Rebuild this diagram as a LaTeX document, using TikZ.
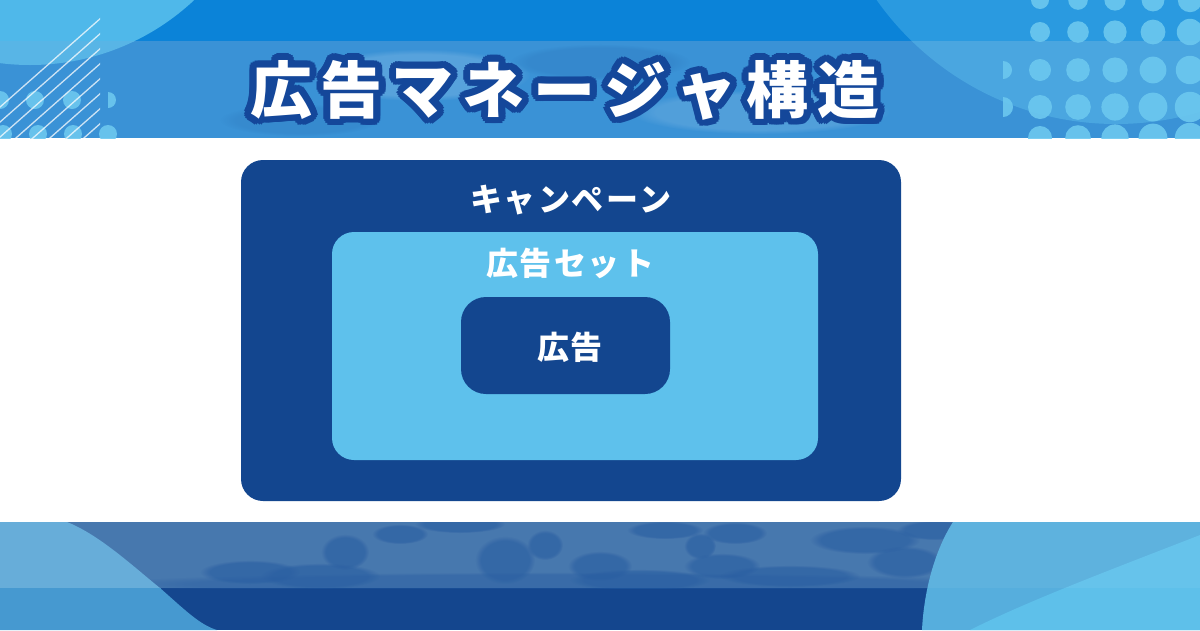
\documentclass[tikz,border=0pt]{standalone}
\usepackage{fontspec}
\usetikzlibrary{fadings}
\newfontfamily\cjk{Noto Sans CJK JP}
\definecolor{topA}{HTML}{0B83D8}
\definecolor{topB}{HTML}{3A92D6}
\definecolor{circA}{HTML}{4FB8EA}
\definecolor{circB}{HTML}{58B5E6}
\definecolor{arcA}{HTML}{2A9AE0}
\definecolor{arcB}{HTML}{4AA6E0}
\definecolor{navy}{HTML}{13468F}
\definecolor{sky}{HTML}{5EC1EC}
\definecolor{outl}{HTML}{14479A}
\definecolor{botA}{HTML}{3E71AA}
\definecolor{botB}{HTML}{14468E}
\definecolor{cloudD}{HTML}{1E569E}
\definecolor{lightL}{HTML}{5FA9D8}
\definecolor{lightLB}{HTML}{4699D0}
\definecolor{lightR}{HTML}{56AEDD}
\definecolor{lightR2}{HTML}{5EC0EA}
\definecolor{dotc}{HTML}{6CC8EF}
\tikzset{
  box/.style={fill=#1, rounded corners=22pt, inner sep=0pt},
  lbl/.style={text=white, font=\cjk\bfseries\fontsize{32}{34}\selectfont, inner sep=0pt},
  ttl/.style={font=\cjk\bfseries\fontsize{62}{66}\selectfont, inner sep=0pt},
  dotst/.style={fill=dotc, opacity=0.9},
  soft/.style={fill=#1, path fading=circle with fuzzy edge 20 percent}
}
\newcommand{\ttltext}{広\kern9pt 告\kern9pt マ\kern9pt ネ\kern9pt ー\kern9pt ジ\kern9pt ャ\kern9pt 構\kern9pt 造}
\newcommand{\softblob}[3]{\fill[soft=cloudD, opacity=0.6] #1 ellipse (#2 and #3);}
\begin{document}
\begin{tikzpicture}[x=1pt,y=-1pt]
\useasboundingbox (0,0) rectangle (1200,630);
% ---------- top banner ----------
\fill[topA] (0,0) rectangle (1200,41);
\fill[topB] (0,41) rectangle (1200,138);
\fill[soft=white, opacity=0.15] (420,75) ellipse (110 and 26);
\fill[soft=white, opacity=0.12] (760,112) ellipse (130 and 22);
\fill[soft=navy, opacity=0.12] (600,62) ellipse (90 and 18);
\fill[soft=navy, opacity=0.1] (300,120) ellipse (80 and 16);
% top-left circle
\begin{scope}
  \clip (0,0) rectangle (1200,41);
  \fill[circA] (30,-175) circle (240);
\end{scope}
\begin{scope}
  \clip (0,41) rectangle (1200,138);
  \fill[circB] (30,-175) circle (240);
\end{scope}
% top-right circle
\begin{scope}
  \clip (0,0) rectangle (1200,41);
  \fill[arcA] (1116,-169) circle (293);
\end{scope}
\begin{scope}
  \clip (0,41) rectangle (1200,138);
  \fill[arcB] (1116,-169) circle (293);
\end{scope}
% dots and lines
\begin{scope}
  \clip (0,0) rectangle (1200,138);
  \foreach \x in {0,35,72} \fill[dotst] (\x,100) circle (9);
  \begin{scope}\clip (108,80) rectangle (130,120); \fill[dotst] (108,100) circle (8); \end{scope}
  \foreach \x in {3,38,73,108} \fill[dotst] (\x,134) circle (9);
  \begin{scope}
    \clip (0,0) rectangle (100,138);
    \foreach \i in {0,...,9}
      \draw[white, opacity=0.75, line width=1.3pt] (-60+\i*17,160) -- (110+\i*17,10);
  \end{scope}
  \foreach \y/\r in {0/9,32/10,70/11,107/12,138/12} {
    \foreach \x/\s in {1040/0,1078/1,1115/2,1153/3,1190/4}
      \fill[dotst] (\x,\y) circle ({\r+\s*0.8});
  }
  \begin{scope}
    \clip (1003,50) rectangle (1030,130);
    \fill[dotst] (1003,70) circle (9);
    \fill[dotst] (1003,107) circle (10);
  \end{scope}
\end{scope}
% title with outline (offset copies)
\coordinate (tpos) at (565,90);
\foreach \a in {0,20,...,340}
  \path ([shift={(\a:7)}]tpos) node[ttl, text=outl] {\ttltext};
\node[ttl, text=white] (title) at (tpos) {\ttltext};
% ---------- bottom banner ----------
\fill[botA] (0,522) rectangle (1200,588);
\fill[botB] (0,588) rectangle (1200,630);
\begin{scope}
  \clip (0,522) rectangle (1200,588);
  \fill[soft=cloudD, opacity=0.45] (560,584) ellipse (460 and 12);
  \softblob{(345,552)}{24}{18}
  \softblob{(320,576)}{60}{13}
  \softblob{(400,534)}{28}{10}
  \softblob{(460,524)}{45}{9}
  \softblob{(505,560)}{30}{24}
  \softblob{(545,545)}{18}{15}
  \softblob{(600,566)}{32}{15}
  \softblob{(640,580)}{70}{11}
  \softblob{(700,546)}{16}{13}
  \softblob{(735,533)}{32}{11}
  \softblob{(722,566)}{38}{13}
  \softblob{(790,576)}{70}{11}
  \softblob{(865,540)}{55}{14}
  \softblob{(905,562)}{38}{16}
  \softblob{(935,530)}{38}{10}
  \softblob{(250,572)}{50}{12}
  \softblob{(665,530)}{38}{9}
\end{scope}
% left light shape
\begin{scope}
  \clip (0,522) rectangle (1200,588);
  \fill[lightL] (0,522) -- (67,522) .. controls (100,535) and (135,568) .. (160,588)
     .. controls (185,610) and (200,625) .. (217,630) -- (0,630) -- cycle;
\end{scope}
\begin{scope}
  \clip (0,588) rectangle (1200,630);
  \fill[lightLB] (0,522) -- (67,522) .. controls (100,535) and (135,568) .. (160,588)
     .. controls (185,610) and (200,625) .. (217,630) -- (0,630) -- cycle;
\end{scope}
% right light shapes
\fill[lightR] (953,522) .. controls (935,550) and (924,590) .. (922,630) -- (1200,630) -- (1200,522) -- cycle;
\fill[lightR2] (1200,535) .. controls (1110,570) and (1030,600) .. (970,630) -- (1200,630) -- cycle;
\fill[white,opacity=0.05] (0,522) rectangle (1200,588);
% ---------- boxes ----------
\node[box=navy, minimum width=660pt, minimum height=341pt] (campaign) at (571,330.5) {};
\node[box=sky, minimum width=486pt, minimum height=228pt] (adset) at (575,346) {};
\node[box=navy, minimum width=209pt, minimum height=97pt, rounded corners=25pt] (ad) at (565.5,345.5) {};
\node[lbl] (campaignlbl) at (571,200) {キ\kern2pt ャ\kern2pt ン\kern2pt ペ\kern2pt ー\kern2pt ン};
\node[lbl] (adsetlbl) at (570,263) {広\kern2pt 告\kern2pt セ\kern2pt ッ\kern2pt ト};
\node[lbl] (adlbl) at (570,347) {広\kern2pt 告};
\end{tikzpicture}
\end{document}
